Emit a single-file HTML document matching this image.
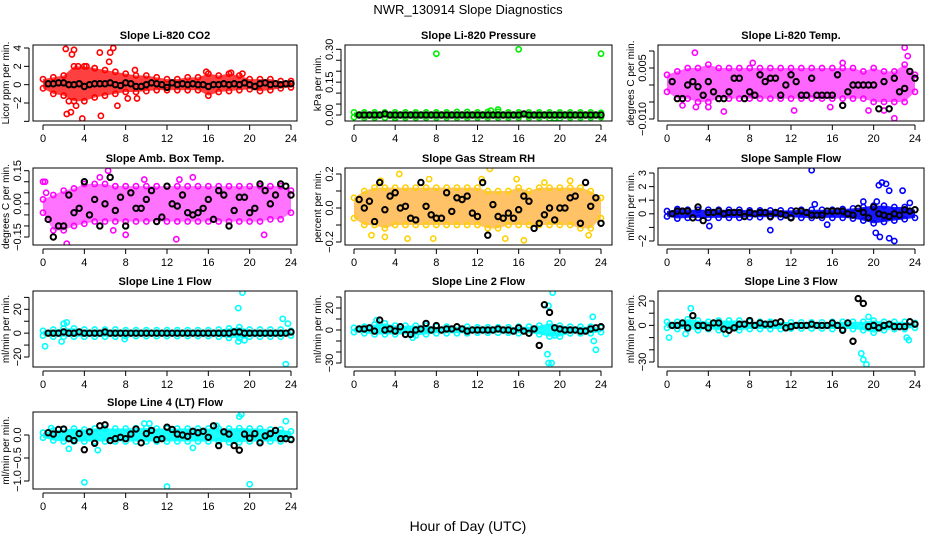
<!DOCTYPE html>
<html><head><meta charset="utf-8"><style>
html,body{margin:0;padding:0;background:#fff}
svg{display:block;font-family:"Liberation Sans",Arial,sans-serif}
</style></head><body>
<svg id="c" width="936" height="540" viewBox="0 0 936 540" xmlns="http://www.w3.org/2000/svg">
<text x="468" y="14" text-anchor="middle" font-size="13">NWR_130914  Slope Diagnostics</text>
<text x="468" y="531" text-anchor="middle" font-size="14">Hour of Day (UTC)</text>
</svg>
<script>
const gridHours=[0,1,2,3,4,5,6,7,8,9,10,11,12,13,14,15,16,17,18,19,20,21,22,23,24];
const blackHours=[0.5,1,1.5,2,2.5,3,3.5,4,4.5,5,5.5,6,6.5,7,7.5,8,8.5,9,9.5,10,10.5,11,11.5,12,12.5,13,13.5,14,14.5,15,15.5,16,16.5,17,17.5,18,18.5,19,19.5,20,20.5,21,21.5,22,22.5,23,23.5,24];
const xTicks=[0,4,8,12,16,20,24];

const co2Hi=[0.6,0.8,1.0,2.0,2.0,1.8,1.6,1.4,1.2,1.0,1.0,0.8,0.6,0.6,0.8,0.8,1.2,1.0,1.2,1.0,0.6,0.6,0.6,0.4,0.4];
const co2Lo=[-0.4,-1.0,-1.2,-1.8,-1.8,-1.4,-1.2,-1.0,-0.8,-0.8,-0.7,-0.6,-0.6,-0.6,-0.6,-0.6,-1.2,-0.8,-0.7,-0.6,-0.5,-0.7,-0.6,-0.4,-0.3];
const co2Out=[[2.2,3.9],[2.8,3.3],[3,3.8],[5.5,3.5],[6.5,3.5],[6.8,4],[6.4,2.5],[2.3,-3.2],[2.7,-3],[3.2,-2.3],[3.8,-3.7],[5.6,-3.4],[7.2,-2.3],[2.5,-1.8],[8.2,-1.5],[9.1,-1.5],[15.8,1.4],[18.2,1.3],[19.3,1.2],[3.4,2.0],[4.2,2.0],[5.0,1.8],[8.9,1.6]];
const co2Black=[0.1,0.1,0.2,0.2,0,0,0.1,-0.2,0,0.1,0.1,0.1,0.2,0,-0.1,0.2,0.1,-0.2,-0.2,0,0.2,0.1,0,-0.3,0.2,0,0.1,0,0.1,0,0,-0.2,0,0,0.1,0,0.1,0,0.2,0,-0.2,0.1,0.2,0,0.1,0,0.1,0.1];

const presHi=[0.012,0.012,0.012,0.012,0.012,0.012,0.012,0.012,0.012,0.012,0.014,0.014,0.012,0.014,0.014,0.012,0.012,0.012,0.012,0.012,0.012,0.012,0.012,0.012,0.01];
const presLo=[-0.01,-0.012,-0.012,-0.012,-0.012,-0.012,-0.012,-0.012,-0.012,-0.012,-0.012,-0.012,-0.012,-0.012,-0.012,-0.012,-0.012,-0.012,-0.012,-0.015,-0.015,-0.012,-0.012,-0.012,-0.01];
const presOut=[[8,0.28],[16,0.3],[24,0.28],[14,0.025],[13.3,0.02],[4,-0.015],[19.5,-0.015]];
const presBlack=[0,0,0,0,0,0.005,0,0,0,0,0,0,0,0,0,0,0,0,0,0,0,0,0,0,0,0,0,0,0,0,0,0,0.005,0,0,0,0,0,0,0,0,0,0,0,0,0,0,0];

const tempHi=[0.003,0.004,0.005,0.005,0.006,0.005,0.005,0.005,0.005,0.005,0.005,0.005,0.005,0.005,0.005,0.005,0.005,0.005,0.005,0.004,0.005,0.004,0.004,0.006,0.003];
const tempLo=[-0.002,-0.004,-0.004,-0.005,-0.005,-0.004,-0.004,-0.004,-0.004,-0.004,-0.004,-0.004,-0.004,-0.004,-0.004,-0.004,-0.004,-0.004,-0.004,-0.004,-0.005,-0.005,-0.005,-0.005,-0.002];
const tempOut=[[2.7,0.0095],[23,0.011],[22,-0.0098],[5.5,-0.0078],[12.3,-0.0075],[1.5,-0.006],[15.8,-0.0065],[23.3,0.0085],[17,0.0065],[8.3,0.0065],[4,-0.0065],[2.8,-0.0065],[19.5,-0.0075],[21,-0.0075]];
const tempBlack=[0.001,-0.004,-0.004,0,0.001,-0.0005,-0.003,0.001,-0.002,-0.004,-0.004,-0.002,0.002,0.002,-0.004,-0.002,-0.003,0.003,0.001,0.002,0.002,-0.003,0,0.003,0.001,-0.003,-0.003,0.002,-0.003,-0.003,-0.003,-0.003,0.003,-0.006,-0.002,0,0,0,0,0,-0.007,0.001,-0.007,0.002,-0.002,-0.001,0.004,0.002];

const ambHi=[0.02,0.04,0.06,0.07,0.09,0.09,0.09,0.08,0.08,0.08,0.08,0.08,0.08,0.08,0.08,0.08,0.08,0.08,0.08,0.08,0.08,0.08,0.08,0.08,0.06];
const ambLo=[-0.04,-0.12,-0.12,-0.1,-0.09,-0.08,-0.08,-0.08,-0.08,-0.08,-0.08,-0.08,-0.08,-0.08,-0.08,-0.08,-0.08,-0.08,-0.08,-0.08,-0.08,-0.08,-0.07,-0.07,-0.04];
const ambOut=[[0,0.1],[0.2,0.1],[0.8,-0.2],[2.3,-0.18],[6.3,0.15],[9.8,0.11],[13.2,0.11],[12.9,-0.16],[21.4,-0.14],[0.3,0.05],[5.5,0.12],[6.8,-0.12],[8,-0.14],[14.5,0.12]];
const ambBlack=[-0.07,-0.15,-0.1,-0.1,0.04,-0.04,-0.02,0.1,-0.05,0.02,-0.1,0,0.12,-0.03,0.03,-0.1,0.05,-0.02,-0.02,0.02,0.06,-0.08,-0.06,0.08,0,-0.01,0.04,-0.04,-0.05,-0.04,-0.02,0.02,-0.07,0.06,0.04,-0.1,-0.03,0.03,0.03,-0.04,-0.02,0.09,0.06,0,0.04,0.09,0.08,0.04];

const rhHi=[0.06,0.1,0.12,0.12,0.12,0.12,0.12,0.12,0.12,0.12,0.12,0.12,0.12,0.1,0.1,0.1,0.12,0.1,0.12,0.12,0.12,0.12,0.12,0.1,0.06];
const rhLo=[-0.06,-0.1,-0.1,-0.12,-0.1,-0.1,-0.1,-0.1,-0.1,-0.1,-0.1,-0.1,-0.1,-0.12,-0.12,-0.1,-0.1,-0.1,-0.1,-0.1,-0.1,-0.1,-0.12,-0.12,-0.06];
const rhOut=[[4.4,0.2],[1.7,-0.16],[3,-0.17],[5.2,-0.18],[7.7,-0.18],[13.2,0.23],[14.7,-0.18],[16.5,-0.19],[22.8,-0.16],[7.3,0.17],[12.4,0.17],[15.8,0.17],[18.5,0.15],[21,0.16],[2.6,0.16]];
const rhBlack=[0.05,0,0.04,-0.08,0.15,-0.01,0.07,0.09,0,0.01,-0.06,-0.07,0.15,0.01,-0.04,-0.06,-0.06,0.09,-0.02,0.06,0.05,0.07,-0.03,-0.05,0.15,-0.16,0.02,-0.05,-0.06,-0.03,-0.06,-0.01,0.07,0.04,-0.12,-0.09,-0.04,0,-0.07,0,0,0.06,0.07,-0.09,0.15,0.01,0.06,-0.09];

const sfHi=[0.2,0.35,0.3,0.3,0.3,0.3,0.3,0.3,0.25,0.25,0.25,0.25,0.25,0.3,0.3,0.3,0.3,0.35,0.4,0.5,0.6,0.6,0.5,0.5,0.3];
const sfLo=[-0.2,-0.35,-0.3,-0.3,-0.3,-0.3,-0.3,-0.3,-0.25,-0.25,-0.25,-0.25,-0.25,-0.3,-0.3,-0.3,-0.3,-0.3,-0.35,-0.5,-0.7,-0.6,-0.5,-0.4,-0.3];
const sfOut=[[14,3.2],[20.5,2.1],[20.8,2.3],[21.2,2.2],[21.5,1.7],[22.8,1.7],[20.2,-1.4],[20.6,-1.7],[21.5,-1.8],[22,-2],[10,-1.2],[15.5,-0.8],[4.1,-0.9],[19,0.9],[20.3,0.9],[23.5,0.8],[14.3,0.7]];
const sfBlack=[0,0.2,0.2,0.2,-0.3,0.5,-0.5,0.1,0.1,0.2,0,0.1,0.1,0.1,-0.2,0.1,0,0.1,0.1,-0.2,0.1,0,-0.1,-0.3,0.2,0.2,0.1,-0.1,-0.1,-0.1,0.2,0.2,0.2,0.2,0,-0.1,0.4,0.1,-0.3,0.5,0,-0.1,-0.2,0,-0.1,0.3,0.2,0.3];

const l1Hi=[2,3,4,4,3,3,3,3,2.5,2.5,2.5,2.5,2.5,2.5,2.5,2.5,2.5,3,4,5,3,3,3,3,2];
const l1Lo=[-2,-3,-3,-3,-3,-3,-3,-3,-2.5,-2.5,-2.5,-2.5,-2.5,-2.5,-2.5,-2.5,-2.5,-3,-4,-4,-3,-3,-3,-3,-2];
const l1Out=[[0.2,-11],[1.8,-7],[2,8],[18.9,21],[19.3,34],[18.9,-7],[23.5,-26],[23.2,12],[23.7,8],[2.3,9],[19.5,-6],[7.9,-5]];
const l1Black=[0,0,0,1,0,0,1,0,0,0,0,1,0,0,0,0,0,0,0,0,0,0,0,0,0,0,0,0,0,0,0,0,0,0,0,0,1,1,0,0,0,0,0,0,0,0,0,1];

const l2Hi=[2,3,5,6,4,4,4,4,3,3,3,3,2.5,2.5,2.5,2.5,3,3,4,6,4,3,3,3,2];
const l2Lo=[-2,-3,-4,-4,-4,-4,-5,-4,-3,-3,-3,-3,-2.5,-2.5,-2.5,-2.5,-3,-3,-4,-6,-6,-3,-3,-3,-2];
const l2Out=[[18.9,22],[19.3,34],[19.5,-5],[18.8,-22],[18.9,-30],[19.2,-30],[23.2,12],[23.3,-10],[23.5,-18],[2.2,9],[5.7,-7]];
const l2Black=[1,1,2,-1,9,0,1,-1,3,-4,-4,0,1,6,0,4,0,1,1,3,1,-1,0,0,0,0,0,1,0,0,-1,2,-1,-3,1,-14,23,16,2,1,0,0,0,-1,-1,1,2,3];

const l3Hi=[3,3,5,4,3,4,4,4,3,3,3,3,2.5,2.5,2.5,2.5,3,3,3,3,4,3,3,3,2];
const l3Lo=[-2,-3,-3,-4,-3,-4,-4,-4,-3,-3,-3,-3,-2.5,-2.5,-2.5,-2.5,-3,-3,-3,-4,-6,-4,-3,-3,-2];
const l3Out=[[0.2,-10],[2.3,14],[18.8,-23],[19,-28],[19.3,-32],[19.5,7],[23.2,-10],[23.4,-12],[1.8,-7],[5.7,-7]];
const l3Black=[0,0,2,-2,8,0,0,-2,2,2,-3,-4,-2,1,1,4,0,2,1,1,2,3,-2,-1,0,0,0,1,0,0,0,2,0,-4,2,-13,22,18,-1,0,-2,0,1,-1,-1,-1,3,1];

const l4Hi=[0.05,0.1,0.12,0.14,0.12,0.14,0.14,0.14,0.14,0.15,0.15,0.14,0.14,0.14,0.14,0.14,0.14,0.14,0.14,0.15,0.14,0.14,0.12,0.12,0.08];
const l4Lo=[-0.06,-0.12,-0.14,-0.14,-0.14,-0.14,-0.14,-0.14,-0.14,-0.14,-0.14,-0.14,-0.14,-0.14,-0.14,-0.14,-0.14,-0.14,-0.16,-0.16,-0.14,-0.14,-0.14,-0.14,-0.08];
const l4Out=[[4,-1.03],[12,-1.12],[20,-1.07],[19,0.4],[19.2,0.45],[23.5,0.3],[0.8,0.15],[2.5,-0.3],[5.3,-0.33],[9.8,0.25],[10.3,0.25],[14.5,-0.28],[16.8,0.2]];
const l4Black=[0.05,0.02,0.12,0.13,-0.08,-0.12,0.03,-0.32,0.07,-0.18,0.2,0.22,-0.12,-0.08,-0.05,-0.08,0.02,0.13,-0.17,0.03,0.1,-0.1,-0.08,0.17,0.12,0.02,0,-0.03,0.08,0.05,0.08,-0.05,0.2,-0.23,0.07,0.02,-0.23,-0.33,0.02,-0.07,0.03,-0.17,-0.02,0.03,0.1,-0.08,-0.08,-0.1];

const co2Ticks=[-4,-2,0,2,4], co2LabelVals=[-2,0,2,4];
const presTicks=[0,0.05,0.1,0.15,0.2,0.25,0.3], presLabelVals=[0,0.15,0.3];
const tempTicks=[-0.01,-0.005,0,0.005,0.01], tempLabelVals=[-0.01,0.005];
const ambTicks=[-0.15,-0.1,-0.05,0,0.05,0.1,0.15], ambLabelVals=[-0.15,0,0.15];
const rhTicks=[-0.2,-0.1,0,0.1,0.2], rhLabelVals=[-0.2,0,0.2];
const sfTicks=[-2,-1,0,1,2,3], sfLabelVals=[-2,0,1,2,3];
const l1Ticks=[-20,-10,0,10,20,30], l1LabelVals=[-20,0,20];
const l2Ticks=[-30,-20,-10,0,10,20,30], l2LabelVals=[-30,0,20];
const l3Ticks=[-30,-20,-10,0,10,20], l3LabelVals=[-30,0,20];
const l4Ticks=[-1,-0.5,0], l4LabelVals=[-1,-0.5,0];

const NS="http://www.w3.org/2000/svg";
const svg=document.getElementById('c');
const colL=[33,345,658], colR=[297,612,924], h0=[43,354,667], h24=[291,601,915];
const rowT=[45,168,291,412], rowB=[121,245,367,489];
function mk(tag,attrs,parent){const e=document.createElementNS(NS,tag);for(const k in attrs)e.setAttribute(k,attrs[k]);(parent||svg).appendChild(e);return e;}

const panels=[
 {id:"co2",title:"Slope Li-820 CO2",yt:"Licor ppm per min.",c:0,r:0,ref:[4,48,-2,103],col:"#ff0000",band:"#ff0000",op:0.75,dec:0,hi:co2Hi,lo:co2Lo,out:co2Out,blk:co2Black,ticks:co2Ticks,lv:co2LabelVals},
 {id:"pressure",title:"Slope Li-820 Pressure",yt:"kPa per min.",c:1,r:0,ref:[0.3,49.3,0,115],col:"#00ee00",band:"#00dd00",op:1,dec:2,hi:presHi,lo:presLo,out:presOut,blk:presBlack,ticks:presTicks,lv:presLabelVals},
 {id:"li820-temp",title:"Slope Li-820 Temp.",yt:"degrees C per min.",c:2,r:0,ref:[0.005,68,-0.01,119],col:"#ff00ff",band:"#ff00ff",op:0.6,dec:3,hi:tempHi,lo:tempLo,out:tempOut,blk:tempBlack,ticks:tempTicks,lv:tempLabelVals},
 {id:"amb-box-temp",title:"Slope Amb. Box Temp.",yt:"degrees C per min.",c:0,r:1,ref:[0.15,170.7,-0.15,237],col:"#ff00ff",band:"#ff00ff",op:0.55,dec:2,hi:ambHi,lo:ambLo,out:ambOut,blk:ambBlack,ticks:ambTicks,lv:ambLabelVals},
 {id:"gas-stream-rh",title:"Slope Gas Stream RH",yt:"percent per min.",c:1,r:1,ref:[0.2,174,-0.2,242],col:"#ffd000",band:"#ff9a00",op:0.6,dec:1,hi:rhHi,lo:rhLo,out:rhOut,blk:rhBlack,ticks:rhTicks,lv:rhLabelVals},
 {id:"sample-flow",title:"Slope Sample Flow",yt:"ml/min per min.",c:2,r:1,ref:[3,173,-2,241],col:"#0000ff",band:"#0000ff",op:0.9,dec:0,hi:sfHi,lo:sfLo,out:sfOut,blk:sfBlack,ticks:sfTicks,lv:sfLabelVals},
 {id:"line1-flow",title:"Slope Line 1 Flow",yt:"ml/min per min.",c:0,r:2,ref:[20,309.3,-20,357],col:"#00ffff",band:"#00ffff",op:0.9,dec:0,hi:l1Hi,lo:l1Lo,out:l1Out,blk:l1Black,ticks:l1Ticks,lv:l1LabelVals},
 {id:"line2-flow",title:"Slope Line 2 Flow",yt:"ml/min per min.",c:1,r:2,ref:[20,308,-30,363],col:"#00ffff",band:"#00ffff",op:0.9,dec:0,hi:l2Hi,lo:l2Lo,out:l2Out,blk:l2Black,ticks:l2Ticks,lv:l2LabelVals},
 {id:"line3-flow",title:"Slope Line 3 Flow",yt:"ml/min per min.",c:2,r:2,ref:[20,301,-30,362],col:"#00ffff",band:"#00ffff",op:0.9,dec:0,hi:l3Hi,lo:l3Lo,out:l3Out,blk:l3Black,ticks:l3Ticks,lv:l3LabelVals},
 {id:"line4-flow",title:"Slope Line 4 (LT) Flow",yt:"ml/min per min.",c:0,r:3,ref:[0,435,-1,481],col:"#00ffff",band:"#00ffff",op:0.9,dec:1,hi:l4Hi,lo:l4Lo,out:l4Out,blk:l4Black,ticks:l4Ticks,lv:l4LabelVals}
];

panels.forEach(p=>{
  const L=colL[p.c],R=colR[p.c],T=rowT[p.r],B=rowB[p.r];
  const xs=h=>h0[p.c]+(h24[p.c]-h0[p.c])*h/24;
  const ys=v=>p.ref[1]+(v-p.ref[0])*(p.ref[3]-p.ref[1])/(p.ref[2]-p.ref[0]);
  const g=mk('g',{});
  
  
  const clipId='clip-'+p.id;
  const cp=mk('clipPath',{id:clipId},g);
  mk('rect',{x:L,y:T,width:R-L,height:B-T},cp);
  const t=mk('text',{x:(L+R)/2,y:T-6,'text-anchor':'middle','font-size':11,'font-weight':'bold'},g);
  t.textContent=p.title;
  
  
  const yt=mk('text',{x:L-24,y:(T+B)/2,'text-anchor':'middle','font-size':10,transform:`rotate(-90 ${L-24} ${(T+B)/2})`},g);
  yt.textContent=p.yt;
  
  
  const marks=mk('g',{'clip-path':`url(#${clipId})`},g);
  let d='M'+gridHours.map((h,i)=>xs(h)+','+ys(p.hi[i])).join('L');
  d+='L'+gridHours.slice().reverse().map((h,j)=>{const i=gridHours.length-1-j;return xs(h)+','+ys(p.lo[i]);}).join('L')+'Z';
  const band=mk('path',{d:d,fill:p.band,'fill-opacity':p.op,stroke:'none'},marks);
  
  
  gridHours.forEach((h,i)=>{
    [p.hi[i],p.lo[i]].forEach(v=>{
      const c=mk('circle',{cx:xs(h),cy:ys(v),r:2.6,fill:'none',stroke:p.col,'stroke-width':1.6},marks);
      
      
    });
  });
  p.out.forEach(o=>{
    const c=mk('circle',{cx:xs(o[0]),cy:ys(o[1]),r:2.6,fill:'none',stroke:p.col,'stroke-width':1.6},marks);
    
    
  });
  blackHours.forEach((h,i)=>{
    const c=mk('circle',{cx:xs(h),cy:ys(p.blk[i]),r:2.7,fill:'none',stroke:'#000','stroke-width':2},marks);
    
    
  });
  const box=mk('rect',{x:L,y:T,width:R-L,height:B-T,fill:'none',stroke:'#000','stroke-width':1},g);
  
  
  mk('line',{x1:xs(0),x2:xs(24),y1:B+4,y2:B+4,stroke:'#000'},g);
  xTicks.forEach(h=>{
    mk('line',{x1:xs(h),x2:xs(h),y1:B+4,y2:B+9,stroke:'#000'},g);
    const tl=mk('text',{x:xs(h),y:B+21,'text-anchor':'middle','font-size':11},g);
    tl.textContent=h;
    
    
  });
  const yv=p.ticks.map(ys);
  mk('line',{x1:L-4,x2:L-4,y1:Math.min(...yv),y2:Math.max(...yv),stroke:'#000'},g);
  p.ticks.forEach(v=>{
    const y=ys(v);
    mk('line',{x1:L-9,x2:L-4,y1:y,y2:y,stroke:'#000'},g);
  });
  p.lv.forEach(v=>{
    const y=ys(v);
    const tl=mk('text',{x:L-12,y:y,'text-anchor':'middle','font-size':11,transform:`rotate(-90 ${L-12} ${y})`},g);
    tl.textContent=v.toFixed(p.dec).replace('-','\u2212');
    
    
  });
});
</script>
</body></html>
